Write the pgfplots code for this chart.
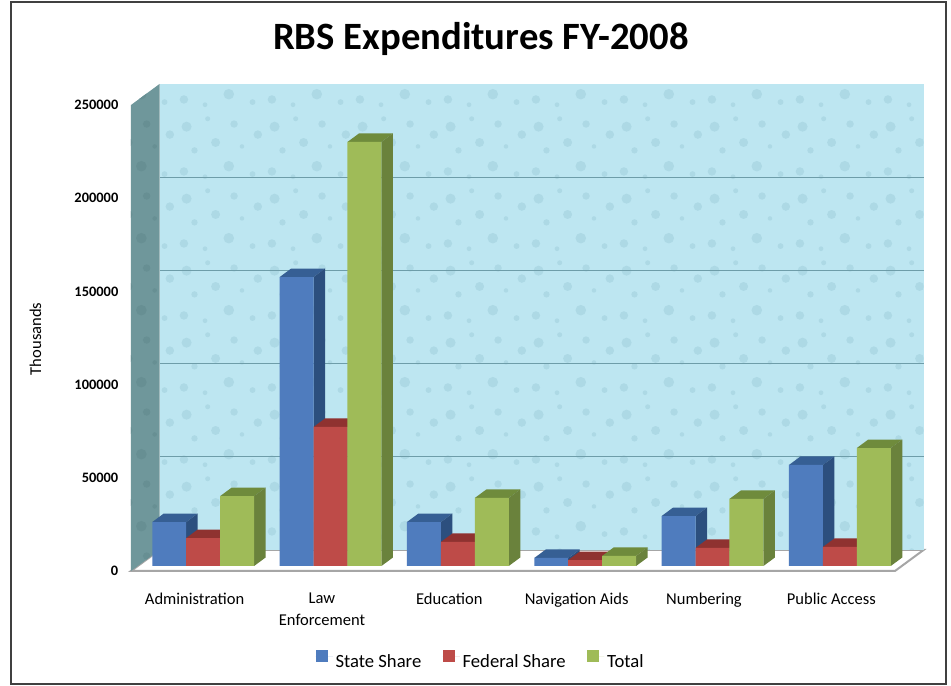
\documentclass[border=0pt]{standalone}
\usepackage{fontspec}
\setmainfont{Carlito}
\usepackage{pgfplots}
\usepackage{pgfplotstable}
\pgfplotsset{compat=1.18}
\usetikzlibrary{patterns}

% water drop texture of the chart walls
\pgfdeclarepatternformonly{drops}{\pgfpoint{0pt}{0pt}}{\pgfpoint{66pt}{54pt}}{\pgfpoint{66pt}{54pt}}{%
  \pgfpathcircle{\pgfpoint{6pt}{8pt}}{3.2pt}
  \pgfpathcircle{\pgfpoint{22pt}{4pt}}{1.8pt}
  \pgfpathcircle{\pgfpoint{40pt}{12pt}}{4pt}
  \pgfpathcircle{\pgfpoint{58pt}{6pt}}{2.2pt}
  \pgfpathcircle{\pgfpoint{14pt}{24pt}}{2.4pt}
  \pgfpathcircle{\pgfpoint{30pt}{30pt}}{3.4pt}
  \pgfpathcircle{\pgfpoint{50pt}{27pt}}{1.7pt}
  \pgfpathcircle{\pgfpoint{62pt}{36pt}}{3.2pt}
  \pgfpathcircle{\pgfpoint{8pt}{42pt}}{3.8pt}
  \pgfpathcircle{\pgfpoint{24pt}{48pt}}{1.9pt}
  \pgfpathcircle{\pgfpoint{44pt}{44pt}}{2.8pt}
  \pgfusepath{fill}
}

\definecolor{wallblue}{HTML}{BDE6F1}
\definecolor{walldrop}{HTML}{ADD9E5}
\definecolor{sidewall}{HTML}{6F979B}
\definecolor{sidedrop}{HTML}{678F93}
\definecolor{gridc}{HTML}{6E9DA9}
\definecolor{stateF}{HTML}{4F7CBE}
\definecolor{stateT}{HTML}{365F94}
\definecolor{stateS}{HTML}{2C4F7E}
\definecolor{fedF}{HTML}{BE4B48}
\definecolor{fedT}{HTML}{8F3230}
\definecolor{fedS}{HTML}{85302E}
\definecolor{totF}{HTML}{9FBB58}
\definecolor{totT}{HTML}{6F8B3C}
\definecolor{totS}{HTML}{6A823C}

\pgfplotstableread{
x state federal total
0 23600 15000 37500
1 155000 74600 227500
2 23600 12900 36500
3 4300 3200 5400
4 26800 9700 36000
5 54200 10200 63300
}\expdata

\def\bw{0.2665}
\def\dpx{0.0903}
\def\dpy{4560}

% top and side faces of one series: column, bar shift, top colour, side colour
\newcommand{\boxfaces}[4]{%
  \pgfplotsinvokeforeach{0,...,5}{%
    \pgfplotstablegetelem{##1}{#1}\of\expdata
    \edef\ya{\pgfplotsretval}%
    \edef\yb{\the\numexpr\pgfplotsretval+\dpy\relax}%
    \pgfmathsetmacro\xa{##1+#2-\bw/2}%
    \pgfmathsetmacro\xb{##1+#2+\bw/2}%
    \pgfmathsetmacro\xc{\xa+\dpx}%
    \pgfmathsetmacro\xd{\xb+\dpx}%
    \addplot[bars3d,fill=#3,draw=none,forget plot] coordinates {(\xa,\ya) (\xb,\ya) (\xd,\yb) (\xc,\yb)} -- cycle;
    \addplot[bars3d,fill=#4,draw=none,forget plot] coordinates {(\xb,0) (\xd,\dpy) (\xd,\yb) (\xb,\ya)} -- cycle;
  }%
}

\begin{document}
\begin{tikzpicture}
\path[use as bounding box] (0,0) rectangle (713.25pt,514.5pt);
\draw[line width=1.6pt,draw=black!75] (8.2pt,1.2pt) rectangle (709.5pt,513.3pt);
\begin{axis}[
    at={(98.25pt,86.25pt)},
    anchor=south west,
    scale only axis,
    width=573pt,
    height=349.5pt,
    clip=false,
    xmin=-0.5,
    xmax=5.5,
    ymin=0,
    ymax=250000,
    axis line style={draw=none},
    tick style={draw=none},
    xtick={0,...,5},
    xticklabels={Administration,{Law\\Enforcement},Education,Navigation Aids,Numbering,Public Access},
    xticklabel style={align=center,font=\fontsize{12.4}{16.5}\selectfont,yshift=-13pt},
    ytick={0,50000,100000,150000,200000,250000},
    scaled y ticks=false,
    /pgf/number format/.cd,fixed,1000 sep={},assume math mode=true,
    /pgfplots/.cd,
    yticklabel style={font=\fontsize{10.8}{12}\selectfont\bfseries,xshift=-6pt},
    ylabel={Thousands},
    ylabel style={at={(axis description cs:-0.125,0.498)},anchor=center,font=\fontsize{12.4}{14}\selectfont},
    title={RBS Expenditures FY-2008},
    title style={at={(axis description cs:0.458,1.124)},anchor=center,font=\fontsize{29}{33}\selectfont\bfseries},
    legend columns=3,
    legend style={at={(axis description cs:0.458,-0.193)},anchor=center,draw=none,fill=none,
      font=\fontsize{14}{16}\selectfont,/tikz/every even column/.style={column sep=14pt}},
    legend image code/.code={\fill[#1,draw=none] (0,-4pt) rectangle (9pt,5pt);\path (0,0) -- (13pt,0);},
    bars3d/.style={xshift=6.4pt,yshift=3.75pt},
]

% floor and walls
\addplot[fill=white,draw=black!35,line width=1.5pt,forget plot] coordinates {(-0.5,0) (5.5,0) (5.724,11266) (-0.276,11266)} -- cycle;
\addplot[fill=wallblue,draw=none,forget plot] coordinates {(-0.276,11266) (5.724,11266) (5.724,261266) (-0.276,261266)} -- cycle;
\addplot[pattern=drops,pattern color=walldrop,draw=none,forget plot] coordinates {(-0.276,11266) (5.724,11266) (5.724,261266) (-0.276,261266)} -- cycle;
\addplot[fill=sidewall,draw=none,forget plot] coordinates {(-0.5,0) (-0.276,11266) (-0.276,261266) (-0.5,250000)} -- cycle;
\addplot[pattern=drops,pattern color=sidedrop,draw=none,forget plot] coordinates {(-0.5,0) (-0.276,11266) (-0.276,261266) (-0.5,250000)} -- cycle;

% gridlines on the back wall
\addplot[gridc,line width=1pt,forget plot] coordinates {(-0.276,61266) (5.724,61266)};
\addplot[gridc,line width=1pt,forget plot] coordinates {(-0.276,111266) (5.724,111266)};
\addplot[gridc,line width=1pt,forget plot] coordinates {(-0.276,161266) (5.724,161266)};
\addplot[gridc,line width=1pt,forget plot] coordinates {(-0.276,211266) (5.724,211266)};

% series left to right, each one hides the side faces of the one before
\boxfaces{state}{-0.2665}{stateT}{stateS}
\addplot[bars3d,ybar,bar width=\bw,bar shift=-0.2665,fill=stateF,draw=none] table[x=x,y=state] {\expdata};
\addlegendentry{State Share}
\boxfaces{federal}{0}{fedT}{fedS}
\addplot[bars3d,ybar,bar width=\bw,bar shift=0,fill=fedF,draw=none] table[x=x,y=federal] {\expdata};
\addlegendentry{Federal Share}
\boxfaces{total}{0.2665}{totT}{totS}
\addplot[bars3d,ybar,bar width=\bw,bar shift=0.2665,fill=totF,draw=none] table[x=x,y=total] {\expdata};
\addlegendentry{Total}

\end{axis}
\end{tikzpicture}
\end{document}
